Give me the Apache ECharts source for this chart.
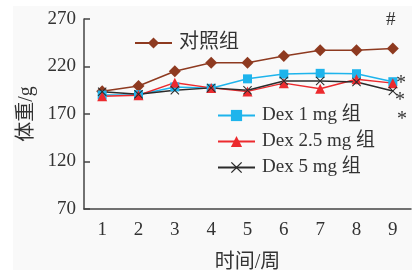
<!DOCTYPE html>
<html>
<head>
<meta charset="utf-8">
<script src="https://cdn.jsdelivr.net/npm/echarts@6/dist/echarts.min.js"></script>
<style>
  html, body { margin: 0; padding: 0; background: #fff; }
  #chart { width: 416px; height: 270px; }
</style>
</head>
<body>
<div id="chart"></div>
<script>
// 周数
var weeks = ['1', '2', '3', '4', '5', '6', '7', '8', '9'];
// 各组体重 (g)
var control = [194, 199.5, 215, 224, 224, 231, 237, 237, 239];
var dex1 = [190, 190.3, 198.5, 197, 207, 212, 212.8, 212.4, 204];
var dex25 = [188.6, 189.7, 203, 197.5, 193.8, 202.5, 196.5, 206.6, 202.5];
var dex5 = [193.5, 190.7, 195, 197.5, 195, 204.7, 204.7, 203.7, 194.2];
var yTicks = [70, 120, 170, 220, 270];

var FONT = '"Liberation Serif", "Noto Sans CJK SC", serif';
var xMark = 'path://M0,0.8 L0.8,0 L5,4.2 L9.2,0 L10,0.8 L5.8,5 L10,9.2 L9.2,10 L5,5.8 L0.8,10 L0,9.2 L4.2,5 Z';

var myChart = echarts.init(document.getElementById('chart'));
var option = {
    animation: false,
    backgroundColor: '#fff',
    textStyle: { fontFamily: FONT },
    grid: { left: 84, right: 5, top: 19, bottom: 61, outerBoundsMode: 'none', containLabel: false },
    graphic: [
        { type: 'rect', z: -10, shape: { x: 13, y: 6, width: 399, height: 264 }, style: { fill: '#f9f9f9' } },
        { type: 'text', left: 386, top: 11, style: { text: '#', font: '19px ' + FONT, fill: '#333' } },
        { type: 'text', left: 396, top: 74, style: { text: '*', font: '20px ' + FONT, fill: '#333' } },
        { type: 'text', left: 395, top: 91, style: { text: '*', font: '20px ' + FONT, fill: '#333' } },
        { type: 'text', left: 397, top: 110, style: { text: '*', font: '20px ' + FONT, fill: '#333' } }
    ],
    legend: [{
        data: ['对照组'],
        left: 129, top: 28,
        itemWidth: 37, itemHeight: 14,
        textStyle: { fontSize: 20, color: '#333', fontFamily: FONT, padding: [0, 0, 0, 2] }
    }, {
        data: ['Dex 1 mg 组', 'Dex 2.5 mg 组', 'Dex 5 mg 组'],
        orient: 'vertical',
        left: 212, top: 100,
        itemWidth: 37, itemHeight: 14, itemGap: 5,
        textStyle: { fontSize: 19, color: '#333', fontFamily: FONT, lineHeight: 21, padding: [0, 0, 0, 2] }
    }],
    xAxis: {
        type: 'category',
        data: weeks,
        name: '时间/周',
        nameLocation: 'middle',
        nameGap: 44,
        nameTextStyle: { fontSize: 20, color: '#333', fontFamily: FONT },
        axisLine: { lineStyle: { color: '#444', width: 1.5 } },
        axisTick: { inside: true, length: 6, lineStyle: { color: '#444', width: 1.5 } },
        axisLabel: { fontSize: 19, color: '#333', margin: 12, fontFamily: FONT }
    },
    yAxis: {
        type: 'value',
        min: 70, max: 270, interval: 50,
        name: '体重/g',
        nameLocation: 'middle',
        nameGap: 47,
        nameTextStyle: { fontSize: 20, color: '#333', fontFamily: FONT },
        axisLine: { show: true, lineStyle: { color: '#444', width: 1.5 } },
        axisTick: { show: true, inside: true, length: 6, lineStyle: { color: '#444', width: 1.5 } },
        splitLine: { show: false },
        axisLabel: {
            fontSize: 19, color: '#333', margin: 8, fontFamily: FONT,
            formatter: function (v) { return yTicks.indexOf(v) >= 0 ? String(v) : ''; }
        }
    },
    series: [{
        name: '对照组', type: 'line', data: control,
        symbol: 'diamond', symbolSize: 12,
        lineStyle: { color: '#8e3a20', width: 1.5 },
        itemStyle: { color: '#8e3a20' }
    }, {
        name: 'Dex 1 mg 组', type: 'line', data: dex1,
        symbol: 'rect', symbolSize: 9,
        lineStyle: { color: '#1eb4ec', width: 1.5 },
        itemStyle: { color: '#1eb4ec' }
    }, {
        name: 'Dex 2.5 mg 组', type: 'line', data: dex25,
        symbol: 'triangle', symbolSize: 10,
        lineStyle: { color: '#ec2a2e', width: 1.5 },
        itemStyle: { color: '#ec2a2e' }
    }, {
        name: 'Dex 5 mg 组', type: 'line', data: dex5,
        symbol: xMark, symbolSize: 9,
        lineStyle: { color: '#2b2b2b', width: 1.5 },
        itemStyle: { color: '#2b2b2b' }
    }]
};
myChart.setOption(option);
</script>
</body>
</html>
